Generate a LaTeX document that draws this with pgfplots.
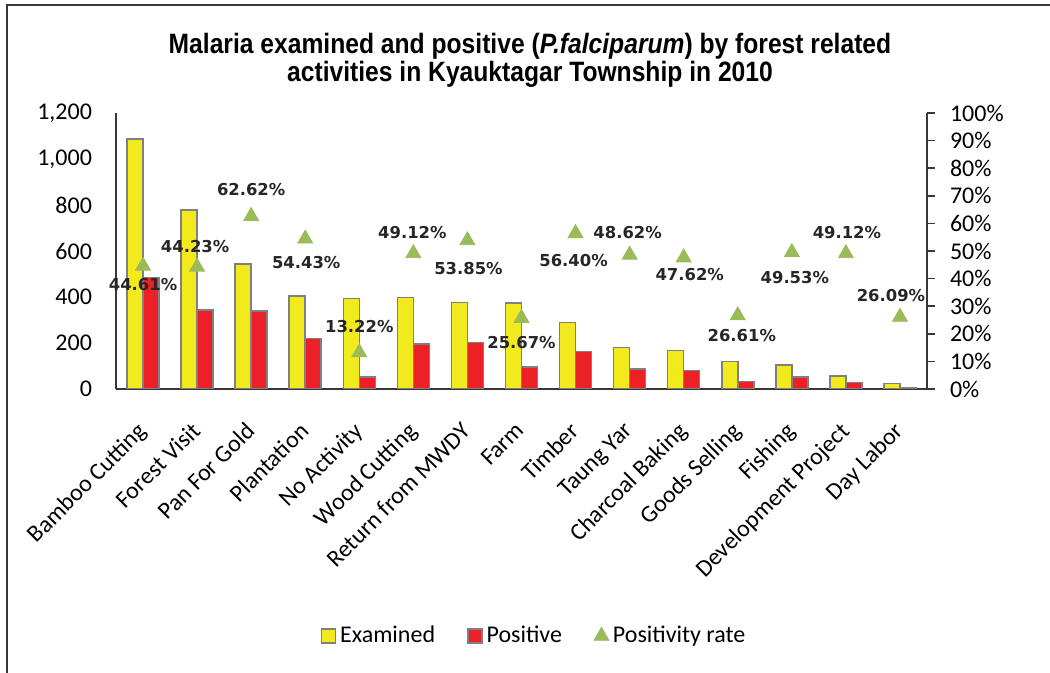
\documentclass[border=0pt]{standalone}
\usepackage{fontspec}
\setmainfont{Carlito}
\newfontfamily\titlefont[FakeStretch=0.88]{Liberation Sans}
\newfontfamily\dlfont{DejaVu Sans}
\usepackage{pgfplots}
\pgfplotsset{compat=1.18}
\usepackage{pgfplotstable}
\definecolor{exy}{RGB}{242,234,28}
\definecolor{posr}{RGB}{236,32,39}
\definecolor{rateg}{RGB}{155,187,89}
\definecolor{bordg}{RGB}{128,128,128}
\definecolor{axg}{RGB}{55,55,55}

\pgfplotstableread{
x exam pos
0 1088 485
1 778 344
2 543 340
3 404 220
4 393 52
5 397 195
6 377 203
7 374 96
8 289 163
9 181 88
10 168 80
11 120 32
12 105 52
13 57 28
14 23 6
}\barsdata

\pgfplotstableread{
x rate dx dy
0 44.61 0 -9.5
1 44.23 -1 10
2 62.62 0 13.5
3 54.43 0.5 -12
4 13.22 0 13
5 49.12 -0.5 10.5
6 53.85 0.5 -14
7 25.67 0 -12
8 56.40 -1 -13.5
9 48.62 -1 11
10 47.62 3 -8.5
11 26.61 2 -10
12 49.53 1.5 -12.5
13 49.12 0.5 10.5
14 26.09 -4.5 10.5
}\ratedata

\begin{document}
\begin{tikzpicture}
\useasboundingbox (0,0) rectangle (525pt,336.5pt);
\draw[axg, line width=1.2pt] (3.5pt,0) -- (3.5pt,334pt) -- (525pt,334pt);
\node[font=\titlefont\bfseries\fontsize{14}{14}\selectfont, align=center] at (265pt,306.5pt)
  {Malaria examined and positive (\textit{P.falciparum}) by forest related\\activities in Kyauktagar Township in 2010};

\begin{axis}[
  at={(58pt,142pt)}, anchor=south west, scale only axis,
  width=405.5pt, height=138pt,
  xmin=-0.5, xmax=14.5, ymin=0, ymax=1200,
  axis x line*=bottom, axis y line*=left,
  axis line style={axg, line width=0.8pt, -},
  ybar=0pt, bar width=8pt,
  xtick=data,
  xticklabels={Bamboo Cutting,Forest Visit,Pan For Gold,Plantation,No Activity,Wood Cutting,Return from MWDY,Farm,Timber,Taung Yar,Charcoal Baking,Goods Selling,Fishing,Development Project,Day Labor},
  major tick length=0pt,
  ytick={0,200,...,1200},
  yticklabel style={font=\fontsize{12}{12}\selectfont, xshift=-8.5pt},
  xticklabel style={xshift=-3.5pt, yshift=-11pt, rotate=45, anchor=north east, font=\fontsize{12}{12}\selectfont},
  /pgf/number format/assume math mode=true,
  /pgf/number format/1000 sep={,},
]
\addplot[fill=exy, draw=bordg, line width=0.75pt] table[x=x,y=exam]{\barsdata};
\addplot[fill=posr, draw=bordg, line width=0.75pt] table[x=x,y=pos]{\barsdata};
\end{axis}

\begin{axis}[
  at={(58pt,142pt)}, anchor=south west, scale only axis,
  width=405.5pt, height=138pt,
  xmin=-0.5, xmax=14.5, ymin=0, ymax=100,
  axis y line*=right, axis x line=none,
  axis line style={axg, line width=0.8pt, -},
  ytick={0,10,...,100},
  yticklabel={\pgfmathprintnumber{\tick}\%},
  tick align=outside, major tick length=4pt,
  ytick style={axg, line width=0.8pt},
  yticklabel style={font=\fontsize{12}{12}\selectfont, xshift=4pt},
  /pgf/number format/assume math mode=true,
  legend columns=3,
  legend style={at={(0.5166,-0.895)}, anchor=center, draw=none, fill=none,
    font=\fontsize{12}{12}\selectfont,
    /tikz/every even column/.append style={column sep=14pt}},
]
\addlegendimage{legend image code/.code={\draw[fill=exy, draw=bordg, line width=0.75pt] (0pt,-3.5pt) rectangle (7pt,3.5pt);}}
\addlegendentry{Examined}
\addlegendimage{legend image code/.code={\draw[fill=posr, draw=bordg, line width=0.75pt] (0pt,-3.5pt) rectangle (7pt,3.5pt);}}
\addlegendentry{Positive}
\addplot[only marks, mark=triangle*, mark size=4.3pt, color=rateg,
  point meta=y,
  nodes near coords={\pgfmathprintnumber[fixed,fixed zerofill,precision=2]{\pgfplotspointmeta}\%},
  visualization depends on={\thisrow{dx} \as \mydx},
  visualization depends on={\thisrow{dy} \as \mydy},
  every node near coord/.append style={font=\dlfont\bfseries\fontsize{8.2}{8.2}\selectfont, text=black!85, anchor=center, xshift=\mydx pt, yshift=\mydy pt}
] table[x=x,y=rate]{\ratedata};
\addlegendentry{Positivity rate}
\end{axis}
\end{tikzpicture}
\end{document}
